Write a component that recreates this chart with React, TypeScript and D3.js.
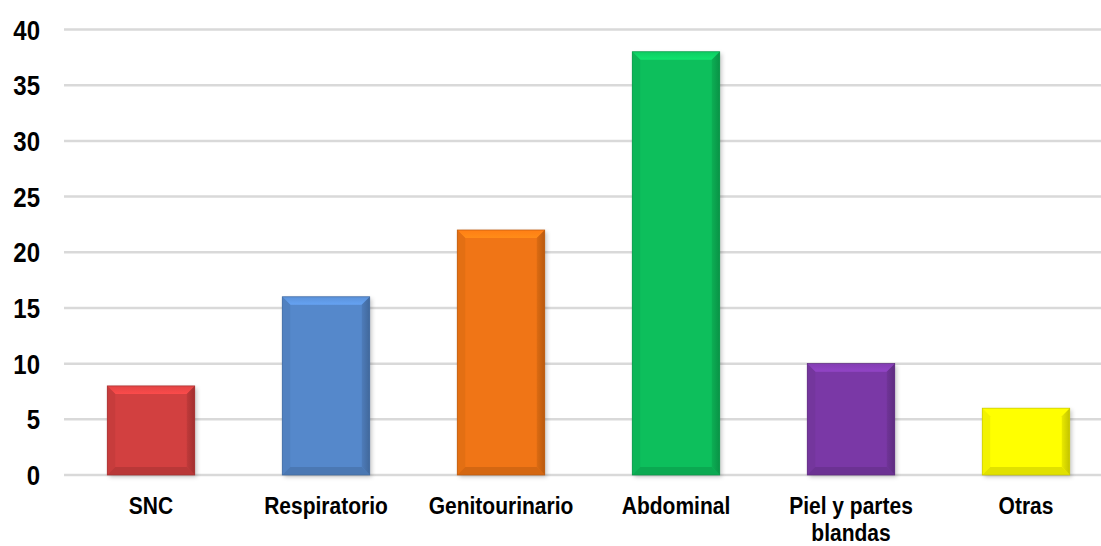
import React, { useEffect, useRef } from "react";
import * as d3 from "d3";

const categories = ["SNC", "Respiratorio", "Genitourinario", "Abdominal", "Piel y partes|blandas", "Otras"];
const values = [8, 16, 22, 38, 10, 6];
const barColors = ["#d23f3f", "#5588cb", "#f07514", "#0dbf5c", "#7a39a6", "#ffff00"];
const yTicks = [0, 5, 10, 15, 20, 25, 30, 35, 40];

const W = 1101;
const H = 546;

const App = () => {
  const svgRef = useRef<SVGSVGElement>(null);

  useEffect(() => {
    const svg = d3.select(svgRef.current);
    svg.selectAll("*").remove();

    const x = d3.scaleBand().domain(categories).range([63.5, 1113.5]).paddingInner(0.5).paddingOuter(0.25);
    const y = d3.scaleLinear().domain([0, 40]).range([475, 29.5]);

    const defs = svg.append("defs");
    const f = defs.append("filter").attr("id", "shadow").attr("x", "-10%").attr("y", "-10%").attr("width", "130%").attr("height", "130%");
    f.append("feDropShadow").attr("dx", 2).attr("dy", 2).attr("stdDeviation", 2).attr("flood-color", "#000").attr("flood-opacity", 0.22);

    // grid
    svg
      .append("g")
      .selectAll("line")
      .data(yTicks)
      .enter()
      .append("line")
      .attr("x1", 64)
      .attr("x2", W)
      .attr("y1", (d) => y(d))
      .attr("y2", (d) => y(d))
      .attr("stroke", "#d9d9d9")
      .attr("stroke-width", 2.5);

    // y tick labels
    svg
      .append("g")
      .selectAll("text")
      .data(yTicks)
      .enter()
      .append("text")
      .attr("transform", (d) => `translate(40,${y(d) + 10}) scale(1,1.15)`)
      .attr("text-anchor", "end")
      .style("font-family", "'Liberation Sans', Arial, sans-serif")
      .style("font-weight", "bold")
      .style("font-size", "24px")
      .attr("fill", "#000")
      .text((d) => d);

    // bars with bevel
    const bars = svg
      .append("g")
      .selectAll("g")
      .data(categories.map((c, i) => ({ c, v: values[i], col: barColors[i], i })))
      .enter()
      .append("g");

    bars.each(function (d) {
      const g = d3.select(this);
      const x0 = x(d.c)!;
      const x1 = x0 + x.bandwidth();
      const y0 = y(d.v);
      const y1 = y(0);
      const b = 8;
      const base = d3.color(d.col)!;

      const gradTop = defs.append("linearGradient").attr("id", `top${d.i}`).attr("x1", 0).attr("y1", 0).attr("x2", 0).attr("y2", 1);
      gradTop.append("stop").attr("offset", "0%").attr("stop-color", base.brighter(0.2).formatHex());
      gradTop.append("stop").attr("offset", "100%").attr("stop-color", base.brighter(0.5).formatHex());
      const gradRight = defs.append("linearGradient").attr("id", `right${d.i}`).attr("x1", 0).attr("y1", 0).attr("x2", 1).attr("y2", 0);
      gradRight.append("stop").attr("offset", "0%").attr("stop-color", base.darker(0.25).formatHex());
      gradRight.append("stop").attr("offset", "100%").attr("stop-color", base.darker(0.75).formatHex());

      g.append("rect")
        .attr("x", x0)
        .attr("y", y0)
        .attr("width", x1 - x0)
        .attr("height", y1 - y0)
        .attr("fill", d.col)
        .attr("filter", "url(#shadow)");
      const poly = (pts: number[][], fill: string) =>
        g.append("polygon").attr("points", pts.map((p) => p.join(",")).join(" ")).attr("fill", fill);
      poly([[x0, y0], [x1, y0], [x1 - b, y0 + b], [x0 + b, y0 + b]], `url(#top${d.i})`);
      poly([[x0, y0], [x0 + b, y0 + b], [x0 + b, y1 - b], [x0, y1]], base.darker(0.15).formatHex());
      poly([[x1, y0], [x1, y1], [x1 - b, y1 - b], [x1 - b, y0 + b]], `url(#right${d.i})`);
      poly([[x0, y1], [x0 + b, y1 - b], [x1 - b, y1 - b], [x1, y1]], base.darker(0.35).formatHex());
      g.append("rect")
        .attr("x", x0)
        .attr("y", y0)
        .attr("width", x1 - x0)
        .attr("height", y1 - y0)
        .attr("fill", "none")
        .attr("stroke", base.darker(0.7).formatHex())
        .attr("stroke-width", 0.7);
    });

    // category labels
    const labels = svg
      .append("g")
      .selectAll("text")
      .data(categories)
      .enter()
      .append("text")
      .attr("transform", (d) => `translate(${x(d)! + x.bandwidth() / 2},514) scale(1,1.13)`)
      .attr("text-anchor", "middle")
      .style("font-family", "'Liberation Sans', Arial, sans-serif")
      .style("font-weight", "bold")
      .style("font-size", "21px")
      .attr("fill", "#000");

    labels
      .selectAll("tspan")
      .data((d) => d.split("|"))
      .enter()
      .append("tspan")
      .attr("x", 0)
      .attr("dy", (_, i) => (i === 0 ? 0 : 24))
      .text((t) => t);
  }, []);

  return (
    <svg
      ref={svgRef}
      width={W}
      height={H}
      style={{ position: "absolute", left: 0, top: 0, background: "#fff" }}
    />
  );
};

export default App;
